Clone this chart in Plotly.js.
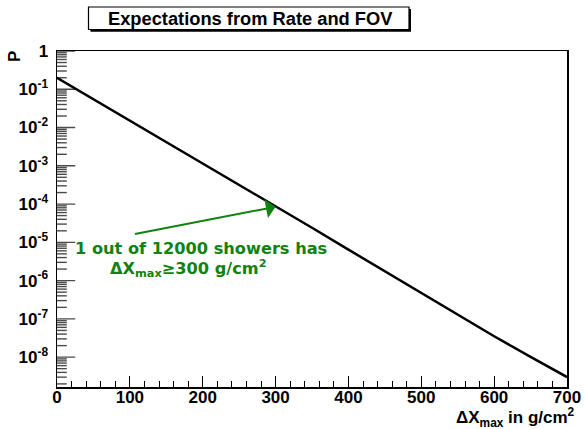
<!DOCTYPE html>
<html>
<head>
<meta charset="utf-8">
<script src="https://cdn.plot.ly/plotly-3.0.1.min.js"></script>
<style>html,body{margin:0;padding:0;background:#fff;}#chart{width:584px;height:429px;}</style>
</head>
<body>
<div id="chart"></div>
<script>
// ---- data ----
const deltaXmax = [0, 50, 100, 150, 200, 250, 300, 350, 400, 450, 500, 550, 600, 650, 700];
const probability = [0.1995, 0.0553, 0.01531, 0.00425, 0.001175, 0.000324, 8.9e-5, 2.40e-5, 6.46e-6, 1.74e-6, 4.68e-7, 1.274e-7, 3.51e-8, 1.012e-8, 3.02e-9];
const yDecades = [1, 1e-1, 1e-2, 1e-3, 1e-4, 1e-5, 1e-6, 1e-7, 1e-8];
const yDecadeText = ["1", "10<sup>-1</sup>", "10<sup>-2</sup>", "10<sup>-3</sup>", "10<sup>-4</sup>",
                     "10<sup>-5</sup>", "10<sup>-6</sup>", "10<sup>-7</sup>", "10<sup>-8</sup>"];
const titleText = "Expectations from Rate and FOV";
const xTitle = "ΔX<sub>max</sub> in g/cm<sup>2</sup>";
const yTitle = "P";
const noteLine1 = "1 out of 12000 showers has";
const noteLine2 = "ΔX<sub>max</sub>≥300 g/cm<sup>2</sup>";
const arrowTip = [300, 8.5e-5];
const arrowTail = [105, 1.62e-5];

// ---- layout geometry ----
const W = 584, H = 429, L = 57, R = 567, T = 51, B = 387;
const px = x => (x - L) / (R - L);
const py = y => (B - y) / (B - T);

const yRange = [-8.78, 0];
const yMin = Math.pow(10, yRange[0]);

// sub-decade tick positions 2..9 x 10^e
const ySubTicks = [];
for (let e = -9; e <= -1; e++) for (let m = 2; m <= 9; m++) {
  const v = m * Math.pow(10, e);
  if (v >= yMin) ySubTicks.push(v);
}
const yTickAll = yDecades.concat(ySubTicks);
const yTickSizes = yDecades.map(() => 26).concat(ySubTicks.map(() => 14));

const axisFont = {family: "Liberation Sans, Arial, sans-serif", size: 17, color: "#000", weight: 700};
const green = "rgb(16,130,16)";

const traces = [
  {x: deltaXmax, y: probability, type: "scatter", mode: "lines",
   line: {color: "#000", width: 2.5}, hoverinfo: "skip", showlegend: false},
  // y-axis tick marks (half of each marker is clipped by the frame, leaving an inside tick)
  {x: yTickAll.map(() => 0), y: yTickAll, type: "scatter", mode: "markers", cliponaxis: true,
   marker: {symbol: "line-ew", size: yTickSizes, color: "#000", line: {color: "#000", width: 1.4}},
   hoverinfo: "skip", showlegend: false}
];

const layout = {
  width: W, height: H,
  margin: {l: L, r: W - R, t: T, b: H - B, pad: 0},
  paper_bgcolor: "#fff", plot_bgcolor: "#fff",
  showlegend: false,
  xaxis: {
    range: [0, 700], dtick: 100, tick0: 0,
    ticks: "inside", ticklen: 11, tickwidth: 1, tickcolor: "#000",
    minor: {dtick: 20, ticks: "inside", ticklen: 6, tickwidth: 1, tickcolor: "#000"},
    showgrid: false, zeroline: false,
    showline: true, linecolor: "#000", linewidth: 1.5, mirror: true,
    tickfont: axisFont, ticklabelstandoff: -6
  },
  yaxis: {
    type: "log", range: yRange,
    tickmode: "array", tickvals: yDecades, ticktext: yDecadeText,
    ticks: "",
    showgrid: false, zeroline: false,
    showline: true, linecolor: "#000", linewidth: 1.5, mirror: true,
    tickfont: axisFont, ticklabelstandoff: 4
  },
  shapes: [
    {type: "rect", xref: "paper", yref: "paper", x0: px(90.5), x1: px(411), y0: py(31.7), y1: py(9),
     fillcolor: "#000", line: {width: 0}, layer: "above"},
    {type: "rect", xref: "paper", yref: "paper", x0: px(88.5), x1: px(409), y0: py(29.5), y1: py(7),
     fillcolor: "#fff", line: {color: "#000", width: 1.2}, layer: "above"}
  ],
  annotations: [
    {text: titleText, xref: "paper", yref: "paper", x: px(250.5), y: py(19),
     xanchor: "center", yanchor: "middle", showarrow: false,
     font: {family: "Liberation Sans, Arial, sans-serif", size: 18.3, color: "#000", weight: 700}},
    {text: yTitle, xref: "paper", yref: "paper", x: px(14), y: py(57),
     xanchor: "center", yanchor: "middle", textangle: -90, showarrow: false,
     font: axisFont},
    {text: xTitle, xref: "paper", yref: "paper", x: px(577), y: py(418),
     xanchor: "right", yanchor: "middle", showarrow: false,
     font: axisFont},
    {text: noteLine1, xref: "paper", yref: "paper", x: px(201), y: py(248),
     xanchor: "center", yanchor: "middle", showarrow: false,
     font: {family: "DejaVu Sans, sans-serif", size: 16.2, color: green, weight: 700}},
    {text: noteLine2, xref: "paper", yref: "paper", x: px(188), y: py(268),
     xanchor: "center", yanchor: "middle", showarrow: false,
     font: {family: "DejaVu Sans, sans-serif", size: 16.2, color: green, weight: 700}},
    {text: "", x: arrowTip[0], y: Math.log10(arrowTip[1]), xref: "x", yref: "y",
     ax: arrowTail[0], ay: Math.log10(arrowTail[1]), axref: "x", ayref: "y",
     showarrow: true, arrowhead: 1, arrowsize: 1.6, arrowwidth: 2, arrowcolor: green, standoff: 0}
  ]
};

Plotly.newPlot("chart", traces, layout, {displayModeBar: false, staticPlot: true});
</script>
</body>
</html>
